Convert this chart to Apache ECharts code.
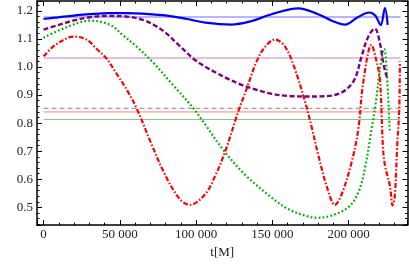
<!DOCTYPE html>
<html><head><meta charset="utf-8">
<script src="https://cdn.jsdelivr.net/npm/echarts@6/dist/echarts.min.js"></script>
<style>html,body{margin:0;padding:0;background:#fff}#c{width:409px;height:264px}</style>
</head><body><div id="c"></div>
<script>
// t values (in M) and series values
const blueT   = [0, 10000, 20000, 30000, 43000, 55000, 65000, 81000, 94000, 106000, 123000, 136000, 149500, 167000, 180000, 189000, 197600, 206000, 213500, 217500, 221000, 223800, 225600];
const blueV   = [1.171, 1.177, 1.183, 1.188, 1.192, 1.192, 1.190, 1.183, 1.171, 1.158, 1.151, 1.163, 1.188, 1.209, 1.188, 1.165, 1.151, 1.177, 1.194, 1.183, 1.149, 1.210, 1.150];

const purpleT = [0, 10000, 20000, 30000, 42000, 54000, 65000, 73000, 80700, 87000, 93800, 98000, 106000, 114000, 122000, 130000, 140000, 150000, 160000, 172000, 185000, 192000, 198000, 204000, 208500, 212800, 217200, 220500, 222700, 224900, 225600];
const purpleV = [1.133, 1.150, 1.166, 1.177, 1.182, 1.180, 1.168, 1.148, 1.119, 1.086, 1.052, 1.030, 1.001, 0.977, 0.955, 0.936, 0.918, 0.904, 0.897, 0.895, 0.896, 0.902, 0.918, 0.957, 1.038, 1.107, 1.137, 1.085, 1.015, 0.967, 0.965];

const greenT  = [0, 15200, 30500, 43600, 52300, 61100, 71100, 85000, 98200, 106000, 117800, 132000, 149500, 160400, 171400, 179000, 188800, 199700, 206300, 210700, 215000, 218000, 220500, 223300, 224900, 227000];
const greenV  = [1.104, 1.142, 1.165, 1.150, 1.112, 1.072, 1.020, 0.935, 0.853, 0.795, 0.705, 0.617, 0.535, 0.494, 0.471, 0.463, 0.471, 0.500, 0.552, 0.639, 0.777, 0.880, 0.992, 1.064, 0.992, 0.767];

const redT    = [0, 6400, 15200, 20600, 28300, 35000, 41000, 48000, 55000, 61000, 69800, 79600, 89400, 96000, 105800, 112400, 119000, 127700, 133200, 139700, 145000, 151700, 158300, 164800, 171400, 176000, 179900, 185600, 191000, 195400, 202000, 206300, 209600, 215000, 218000, 220500, 222500, 223800, 227100, 228800, 230300, 231800, 233200, 233600];
const redV    = [1.038, 1.073, 1.102, 1.108, 1.097, 1.063, 1.032, 0.975, 0.915, 0.853, 0.738, 0.617, 0.529, 0.509, 0.546, 0.611, 0.698, 0.842, 0.923, 1.020, 1.070, 1.098, 1.073, 0.992, 0.877, 0.781, 0.691, 0.576, 0.509, 0.546, 0.662, 0.777, 0.946, 1.079, 1.027, 0.957, 0.715, 0.650, 0.576, 0.507, 0.542, 0.715, 0.853, 1.020];

// horizontal reference levels
const lineEnd   = 234000;
const blueRef   = 1.178;
const purpleRef = 1.032;
const grayRef   = 0.853;
const redRef    = 0.840;
const greenRef  = 0.813;

const xName = 't[M]';

const zip = (a, b) => a.map((t, i) => [t, b[i]]);
const hline = v => [[0, v], [lineEnd, v]];

const font = 'Liberation Serif';
const fmtX = v => v === 0 ? '0' : String(v).replace(/\B(?=(\d{3})+(?!\d))/g, ' ');

const axisCommon = {
  type: 'value',
  axisLine: { show: true, onZero: false, lineStyle: { color: '#000', width: 1.5 } },
  axisTick: { show: true, inside: true, length: 5, lineStyle: { color: '#000', width: 1 } },
  minorTick: { show: true, splitNumber: 5, length: 2.5, lineStyle: { color: '#000', width: 1 } },
  splitLine: { show: false },
  minorSplitLine: { show: false }
};

const chart = echarts.init(document.getElementById('c'), null, { renderer: 'canvas' });
chart.setOption({
  animation: false,
  backgroundColor: '#fff',
  grid: { left: 37, right: 1.5, top: 1, bottom: 34, containLabel: false },
  xAxis: [
    Object.assign({}, axisCommon, {
      position: 'bottom', min: -4300, max: 238600, splitNumber: 5,
      name: xName, nameLocation: 'middle', nameGap: 19,
      nameTextStyle: { fontFamily: font, fontSize: 13, color: '#222' },
      axisLabel: { fontFamily: font, fontSize: 13, color: '#222', margin: 3, formatter: fmtX, showMinLabel: false, showMaxLabel: false }
    }),
    Object.assign({}, axisCommon, {
      position: 'top', min: -4300, max: 238600, splitNumber: 5,
      axisLabel: { show: false }
    })
  ],
  yAxis: [
    Object.assign({}, axisCommon, {
      position: 'left', min: 0.437, max: 1.235, splitNumber: 8,
      axisLabel: { fontFamily: font, fontSize: 13, color: '#222', margin: 4, formatter: v => v.toFixed(1), showMinLabel: false, showMaxLabel: false }
    }),
    Object.assign({}, axisCommon, {
      position: 'right', min: 0.437, max: 1.235, splitNumber: 8,
      axisLabel: { show: false }
    })
  ],
  series: [
    { type: 'line', data: hline(blueRef), symbol: 'none', lineStyle: { color: '#6f6fff', width: 1 } },
    { type: 'line', data: hline(purpleRef), symbol: 'none', lineStyle: { color: '#cc80cc', width: 1 } },
    { type: 'line', data: hline(grayRef), symbol: 'none', lineStyle: { color: '#a0a0a0', width: 1.3, type: [5, 3] } },
    { type: 'line', data: hline(redRef), symbol: 'none', lineStyle: { color: '#ff8080', width: 1 } },
    { type: 'line', data: hline(greenRef), symbol: 'none', lineStyle: { color: '#80cc80', width: 1 } },
    { type: 'line', data: zip(greenT, greenV), symbol: 'none', smooth: 0.35, lineStyle: { color: '#00b000', width: 2.2, type: [1.8, 2.2] } },
    { type: 'line', data: zip(redT, redV), symbol: 'none', smooth: 0.35, lineStyle: { color: '#ff0000', width: 2.2, type: [5, 2, 1.5, 2] } },
    { type: 'line', data: zip(purpleT, purpleV), symbol: 'none', smooth: 0.35, lineStyle: { color: '#800080', width: 2.4, type: [5, 2.5] } },
    { type: 'line', data: zip(blueT, blueV), symbol: 'none', smooth: 0.35, lineStyle: { color: '#0000ff', width: 2.2 } }
  ]
});
</script></body></html>
